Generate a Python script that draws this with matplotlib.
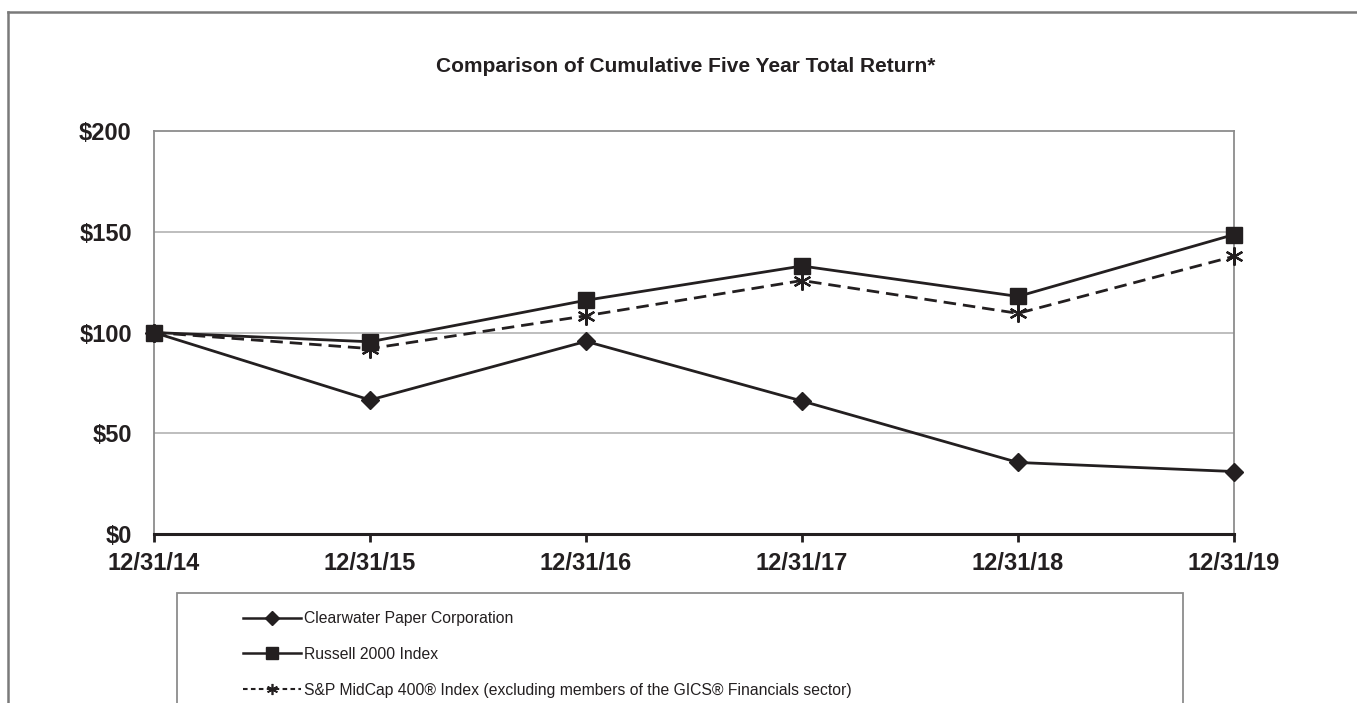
import matplotlib.pyplot as plt
from matplotlib.patches import Rectangle
from matplotlib.lines import Line2D

plt.rcParams["font.family"] = ["Liberation Sans", "DejaVu Sans"]

DATES = ["12/31/14", "12/31/15", "12/31/16", "12/31/17", "12/31/18", "12/31/19"]
CLEARWATER = [100, 66.5, 95.6, 66.0, 35.5, 31.0]
RUSSELL = [100, 95.4, 116.0, 133.0, 117.9, 148.6]
SP_MIDCAP = [100, 92.0, 108.3, 125.8, 109.5, 137.8]
Y_TICKS = [0, 50, 100, 150, 200]
NAMES = ["Clearwater Paper Corporation", "Russell 2000 Index",
         "S&P MidCap 400® Index (excluding members of the GICS® Financials sector)"]

INK = "#231f20"
W, H = 1357, 703


def fx(px):
    return px / W


def fy(py):
    return 1 - py / H


fig = plt.figure(figsize=(13.57, 7.03), dpi=100)
ax = fig.add_axes([fx(154), fy(534), fx(1234 - 154), (534 - 131) / H])

x = range(len(DATES))
ax.plot(x, CLEARWATER, color=INK, lw=2, marker="D", ms=9.5, clip_on=False, zorder=3)
ax.plot(x, RUSSELL, color=INK, lw=2, marker="s", ms=11.5, clip_on=False, zorder=3)
ax.plot(x, SP_MIDCAP, color=INK, lw=2, ls=(0, (4.5, 2.5)), marker=(6, 2, 0), ms=13,
        mew=1.6, clip_on=False, zorder=3)

ax.set_xlim(0, len(DATES) - 1)
ax.set_ylim(0, 200)
ax.set_xticks(list(x))
ax.set_xticklabels(DATES, fontsize=17, fontweight="bold", color=INK)
ax.set_yticks(Y_TICKS)
ax.set_yticklabels([f"${v}" for v in Y_TICKS], fontsize=17, fontweight="bold", color=INK)
ax.tick_params(axis="y", length=0, pad=16)
ax.tick_params(axis="x", direction="out", length=6, width=2, color=INK, pad=7)

for v in Y_TICKS[1:-1]:
    ax.axhline(v, color="#b3b3b3", lw=1.2, zorder=0)
for s in ("left", "right", "top"):
    ax.spines[s].set_color("#8c8c8c")
    ax.spines[s].set_linewidth(1.3)
ax.spines["bottom"].set_color(INK)
ax.spines["bottom"].set_linewidth(2.2)

fig.text(fx(686), fy(66), "Comparison of Cumulative Five Year Total Return*",
         ha="center", va="center", fontsize=15, fontweight="bold", color=INK)

# outer frame (cut off at right and bottom)
fig.add_artist(Line2D([fx(8), 1], [fy(12), fy(12)], color="#7a7a7a", lw=1.8))
fig.add_artist(Line2D([fx(8), fx(8)], [fy(12), 0], color="#7a7a7a", lw=1.8))

# legend box (cut off at bottom)
fig.add_artist(Rectangle((fx(177), -0.1), fx(1183 - 177), fy(593) + 0.1,
                         transform=fig.transFigure, fill=False,
                         edgecolor="#8c8c8c", lw=1.3))
handles = [
    Line2D([], [], color=INK, lw=1.8, marker="D", ms=7),
    Line2D([], [], color=INK, lw=1.8, marker="s", ms=8),
    Line2D([], [], color=INK, lw=1.5, ls=(0, (2.2, 1.6)), marker=(6, 2, 0), ms=8, mew=1.2),
]
fig.legend(handles, NAMES, loc="upper left", bbox_to_anchor=(fx(243), fy(611)),
           frameon=False, fontsize=11.3, handlelength=3.7, handletextpad=0.2,
           labelspacing=1.33, borderpad=0, borderaxespad=0, labelcolor=INK)

fig.savefig("out.png", dpi=100)
